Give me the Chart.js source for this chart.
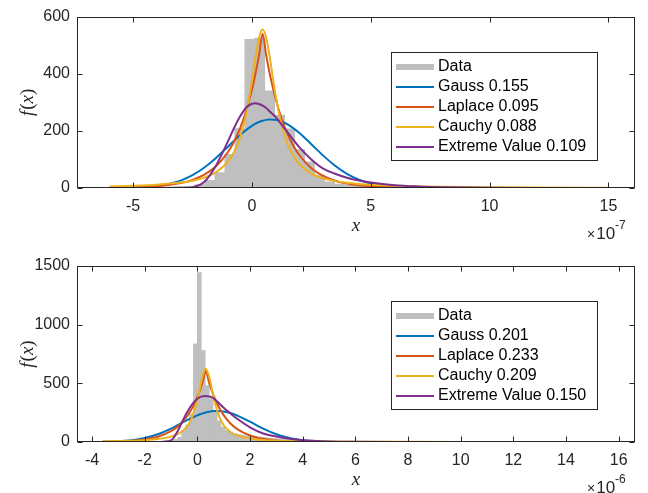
<!DOCTYPE html>
<html>
<head>
<meta charset="utf-8">
<script src="https://cdn.jsdelivr.net/npm/chart.js@4.4.1/dist/chart.umd.min.js"></script>
<style>
  html, body { margin: 0; padding: 0; background: #fff; }
  #wrap { position: relative; width: 648px; height: 493px; }
  .panel { position: absolute; left: 0; width: 648px; }
  #panelTop { top: 0; height: 246px; }
  #panelBottom { top: 246px; height: 247px; }
</style>
</head>
<body>
<div id="wrap">
  <div class="panel" id="panelTop"><canvas id="chartTop" width="648" height="246"></canvas></div>
  <div class="panel" id="panelBottom"><canvas id="chartBottom" width="648" height="247"></canvas></div>
</div>
<script>
// ---- top panel (x in units of 1e-7) ----
const topBinStart = -6.18;
const topBinWidth = 0.42;
const topHist = [1,0,1,1,1,2,2,4,6,12,27,54,118,208,520,525,340,255,207,135,92,45,22,14,10,
  7,5,4,3,3,2,2,1,1,2,1,1,0,1,1,0,1,0,1,1,2,1,0,1,0,1];
const topCurveX = [-6,-5,-4,-3,-2.5,-2,-1.5,-1,-0.75,-0.5,-0.25,0,0.15,0.3,0.45,0.6,0.75,1,1.25,1.5,1.75,2,
  2.5,3,3.5,4,4.5,5,6,7,8,10,12,15];
const topGauss = [0.2,1.3,6.9,25.8,44.7,71.6,106,145.6,165.7,185,202.5,217.4,225,231,235.5,238.5,240,238.5,
  232.6,222.5,208.8,192.3,153.5,113.3,78,49.5,29,15.8,3.7,0.6,0.1,0,0,0];
const topLaplace = [0.9,2.3,6.3,17.1,28.2,46.6,76.8,126.7,162.6,208.8,268,344,400,465,540,465,400,311.6,
  242.6,189,147,114.6,69.5,42.2,25.6,15.5,9.4,5.7,2.1,0.8,0.3,0,0,0];
const topCauchy = [5.6,7.8,11.6,19,25.7,36.5,55.5,93,126,177,257,375,458,527,555,527,458,323,
  221,154,111,83,50.7,33.9,24.1,18,13.9,11.1,7.5,5.4,4.1,2.6,1.75,1.1];
const topExtreme = [0,0,0,0.5,3,22,80,165,210,250,281,295,297,294,288,280,268,248,
  222,195,168,142,100,68,50,36,26,19,10,5.5,3,1,0.3,0];
const topXTicks = [-5, 0, 5, 10, 15];
const topYTicks = [0, 200, 400, 600];
const topLegend = ['Data', 'Gauss 0.155', 'Laplace 0.095', 'Cauchy 0.088', 'Extreme Value 0.109'];

// ---- bottom panel (x in units of 1e-6) ----
const botBinStart = -3.6;
const botBinWidth = 0.15;
const botHist = [1,1,0,1,1,1,1,2,2,2, 3,3,4,5,6,8,10,15,22,40,
  95,145,240,836,1443,780,480,365,255,180, 128,98,82,72,64,58,53,49,45,42,
  39,36,33,30,27,24,21,18,16,14, 12,10,9,8,7,6,5,4,4,3,
  3,3,2,2,2,2,1,2,1,1, 1,1,1,0,1,1,0,1,0,1,
  0,1,0,0,1,0,1,0,0,1, 0,0,1,0,0,0,1,0,0,0,
  0,1,0,0,0,0,0,1,0,0, 0,0,0,0,1,0,0,0,0,0,
  0,0,0,1,0,0,0,1];
const botCurveX = [-3.6,-3,-2.5,-2,-1.5,-1,-0.75,-0.5,-0.25,0,0.1,0.2,0.32,0.45,0.6,0.8,1,1.25,1.5,
  2,2.5,3,3.5,4,5,6,8,10,12,14,15.6];
const botGauss = [1.5,5.6,14.6,33.3,66,114,143,173,201,227,236,244,252,258.5,263.4,265,260.5,247.4,227,
  173,114,66,33.3,14.6,1.9,0.1,0,0,0,0,0];
const botLaplace = [2.2,5.3,10.8,22,45,91.8,131,187.6,268,383,442,510,605,502,406,305,229,160,112,
  55,26.9,13.1,6.4,3.1,0.8,0.2,0,0,0,0,0];
const botCauchy = [5.5,7.7,10.6,15.5,24.8,45.5,66.8,105.7,185,357.5,461.7,565.5,625,556,397,233,142.8,85.4,56,
  28.9,17.5,11.7,8.3,6.25,3.9,2.6,1.45,0.9,0.63,0.46,0.37];
const botExtreme = [0,0,0,0,0.5,14,92,208,305,368,383,390,392,388,375,335,292,245,200,
  125,72,46,27,15,5,1.8,0.3,0,0,0,0];
const botXTicks = [-4, -2, 0, 2, 4, 6, 8, 10, 12, 14, 16];
const botYTicks = [0, 500, 1000, 1500];
const botLegend = ['Data', 'Gauss 0.201', 'Laplace 0.233', 'Cauchy 0.209', 'Extreme Value 0.150'];

const AXIS_COLOR = '#262626';
const HIST_COLOR = '#bfbfbf';
const CURVE_COLORS = ['#0072bd', '#d95319', '#edb120', '#7e2f8e'];
const SANS = '"Liberation Sans", Arial, sans-serif';
const SERIF = '"Liberation Serif", "Times New Roman", serif';

function drawPieces(ctx, parts, cx, cy, rotate) {
  ctx.save();
  ctx.translate(cx, cy);
  if (rotate) ctx.rotate(-Math.PI / 2);
  let total = 0;
  parts.forEach(p => { ctx.font = p.font; p.w = ctx.measureText(p.t).width + (p.gap || 0); total += p.w; });
  let x = -total / 2;
  ctx.textAlign = 'left';
  ctx.textBaseline = 'middle';
  ctx.fillStyle = AXIS_COLOR;
  parts.forEach(p => { ctx.font = p.font; ctx.fillText(p.t, x, 0); x += p.w; });
  ctx.restore();
}

// box, inward ticks, axis labels and legend in MATLAB style
function matlabAxes(cfg) {
  return {
    id: 'matlabAxes',
    afterDraw(chart) {
      const ctx = chart.ctx, a = chart.chartArea;
      const xs = chart.scales.x, ys = chart.scales.y;
      const L = Math.round(a.left) + 0.5, R = Math.round(a.right) - 0.5;
      const T = Math.round(a.top) + 0.5, B = Math.round(a.bottom) - 0.5;
      ctx.save();
      ctx.strokeStyle = AXIS_COLOR;
      ctx.lineWidth = 1;
      ctx.strokeRect(L, T, R - L, B - T);
      ctx.beginPath();
      cfg.xTicks.forEach(v => {
        const px = Math.round(xs.getPixelForValue(v)) + 0.5;
        ctx.moveTo(px, B); ctx.lineTo(px, B - 5);
        ctx.moveTo(px, T); ctx.lineTo(px, T + 5);
      });
      cfg.yTicks.forEach(v => {
        const py = Math.round(ys.getPixelForValue(v)) + 0.5;
        ctx.moveTo(L, py); ctx.lineTo(L + 5, py);
        ctx.moveTo(R, py); ctx.lineTo(R - 5, py);
      });
      ctx.stroke();

      // axis labels
      const midY = (a.top + a.bottom) / 2;
      drawPieces(ctx, [
        { t: 'f', font: 'italic 19px ' + SERIF, gap: 1 },
        { t: '(', font: '19px ' + SERIF },
        { t: 'x', font: 'italic 19px ' + SERIF },
        { t: ')', font: '19px ' + SERIF }
      ], 28, midY, true);
      drawPieces(ctx, [{ t: 'x', font: 'italic 19px ' + SERIF }], (a.left + a.right) / 2, a.bottom + 38, false);

      // exponent: small "×", then "10", superscript right after
      ctx.fillStyle = AXIS_COLOR;
      ctx.textAlign = 'left';
      ctx.textBaseline = 'alphabetic';
      let ex = 587;
      const base = a.bottom + 51;
      ctx.font = '14px ' + SANS;
      ctx.fillText('\u00d7', ex, base);
      ex += ctx.measureText('\u00d7').width + 1;
      ctx.font = '17px ' + SANS;
      ctx.fillText('10', ex, base);
      ex += ctx.measureText('10').width;
      ctx.font = '12px ' + SANS;
      ctx.fillText(cfg.exponent, ex, base - 10);

      // legend
      const lx = 391, ly = Math.round(a.top) + 35, lw = 206, lh = 108;
      ctx.fillStyle = '#fff';
      ctx.fillRect(lx, ly, lw, lh);
      ctx.strokeStyle = AXIS_COLOR;
      ctx.lineWidth = 1;
      ctx.strokeRect(lx + 0.5, ly + 0.5, lw, lh);
      const styles = [{ c: HIST_COLOR, w: 6 }].concat(CURVE_COLORS.map(c => ({ c, w: 2 })));
      cfg.legend.forEach((label, i) => {
        const cy = ly + 15 + 20 * i;
        ctx.strokeStyle = styles[i].c;
        ctx.lineWidth = styles[i].w;
        ctx.beginPath();
        ctx.moveTo(396, cy);
        ctx.lineTo(434, cy);
        ctx.stroke();
        ctx.fillStyle = '#000';
        ctx.font = '16px ' + SANS;
        ctx.textAlign = 'left';
        ctx.textBaseline = 'middle';
        ctx.fillText(label, 438, cy);
      });
      ctx.restore();
    }
  };
}

function curve(xs, ys, color, order) {
  return {
    type: 'line',
    data: xs.map((x, i) => ({ x: x, y: ys[i] })),
    borderColor: color,
    borderWidth: 2,
    pointRadius: 0,
    fill: false,
    cubicInterpolationMode: 'monotone',
    order: order
  };
}

function makeChart(id, p) {
  const bars = p.hist.map((v, i) => ({ x: p.binStart + (i + 0.5) * p.binWidth, y: v }));
  return new Chart(document.getElementById(id), {
    type: 'bar',
    data: {
      datasets: [
        { type: 'bar', data: bars, backgroundColor: HIST_COLOR, borderWidth: 0,
          barPercentage: 1, categoryPercentage: 1, order: 10 },
        curve(p.curveX, p.gauss, CURVE_COLORS[0], 4),
        curve(p.curveX, p.laplace, CURVE_COLORS[1], 3),
        curve(p.curveX, p.cauchy, CURVE_COLORS[2], 2),
        curve(p.curveX, p.extreme, CURVE_COLORS[3], 1)
      ]
    },
    options: {
      responsive: false,
      animation: false,
      layout: { padding: { top: p.padTop, right: 13, left: 0, bottom: 0 } },
      plugins: { legend: { display: false }, tooltip: { enabled: false } },
      scales: {
        x: {
          type: 'linear', min: p.xMin, max: p.xMax, offset: false,
          grid: { display: false, drawTicks: false }, border: { display: false },
          ticks: { font: { family: SANS, size: 16 }, color: AXIS_COLOR, padding: 9,
                   maxRotation: 0, autoSkip: false, callback: v => String(v) },
          afterBuildTicks: s => { s.ticks = p.xTicks.map(v => ({ value: v })); },
          afterFit: s => { s.height = p.xHeight; }
        },
        y: {
          type: 'linear', min: 0, max: p.yMax,
          grid: { display: false, drawTicks: false }, border: { display: false },
          ticks: { font: { family: SANS, size: 16 }, color: AXIS_COLOR, padding: 7,
                   autoSkip: false, callback: v => String(v) },
          afterBuildTicks: s => { s.ticks = p.yTicks.map(v => ({ value: v })); },
          afterFit: s => { s.width = 77; }
        }
      }
    },
    plugins: [matlabAxes({ xTicks: p.xTicks, yTicks: p.yTicks, legend: p.legend, exponent: p.exponent })]
  });
}

makeChart('chartTop', {
  hist: topHist, binStart: topBinStart, binWidth: topBinWidth,
  curveX: topCurveX, gauss: topGauss, laplace: topLaplace, cauchy: topCauchy, extreme: topExtreme,
  xMin: -7.36, xMax: 16.12, yMax: 600, xTicks: topXTicks, yTicks: topYTicks,
  legend: topLegend, exponent: '-7', padTop: 10, xHeight: 58
});

makeChart('chartBottom', {
  hist: botHist, binStart: botBinStart, binWidth: botBinWidth,
  curveX: botCurveX, gauss: botGauss, laplace: botLaplace, cauchy: botCauchy, extreme: botExtreme,
  xMin: -4.57, xMax: 16.62, yMax: 1500, xTicks: botXTicks, yTicks: botYTicks,
  legend: botLegend, exponent: '-6', padTop: 20, xHeight: 51
});
</script>
</body>
</html>
